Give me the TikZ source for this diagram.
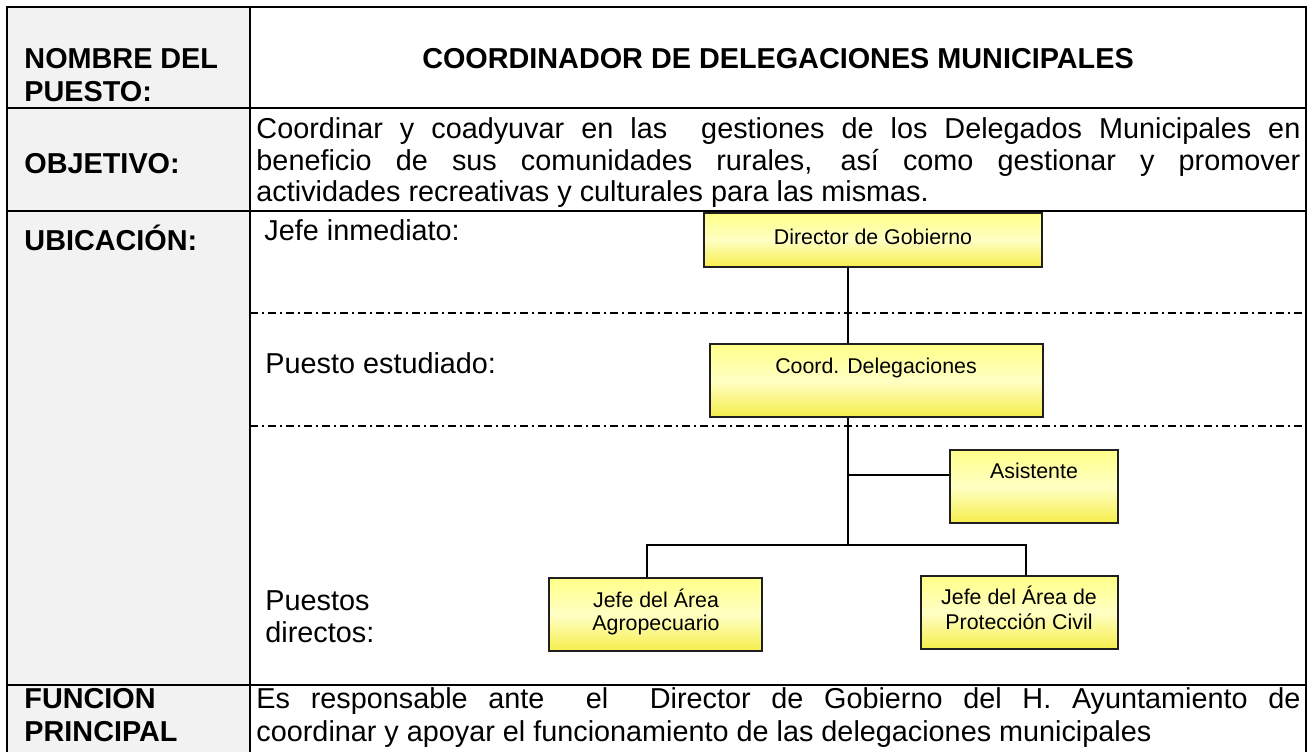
\documentclass[tikz,border=0pt]{standalone}
\usepackage{fontspec}
\setmainfont{Liberation Sans}
\newdimen\pxu \pxu=0.41667pt
\definecolor{lgray}{HTML}{F2F2F2}
\definecolor{ytop}{HTML}{FFFF88}
\definecolor{ymid}{HTML}{FFFFC4}
\definecolor{ybot}{HTML}{F6EE4C}
\begin{document}
\begin{tikzpicture}[x=0.41667pt, y=-0.41667pt,
  tbl/.style={line width=2\pxu, black},
  sepline/.style={line width=1.3\pxu, dash pattern=on 8\pxu off 4\pxu on 2\pxu off 4\pxu},
  box/.style={draw=black!88, line width=2\pxu, inner sep=0, rectangle,
     top color=ytop, bottom color=ybot, middle color=ymid},
  lbl/.style={anchor=base west, inner sep=0, font=\bfseries\fontsize{12}{13.8}\selectfont},
  txt/.style={anchor=base west, inner sep=0, font=\fontsize{12}{13.8}\selectfont},
  btxt/.style={anchor=base, inner sep=0, font=\fontsize{8.9}{10}\selectfont},
  conn/.style={line width=2\pxu, black}]
\useasboundingbox (0,0) rectangle (1312,752);
\fill[white] (0,0) rectangle (1312,752);
% left column shading
\fill[lgray] (7,7) rectangle (250,752);
% table lines
\draw[tbl] (7,752) -- (7,7) -- (1306,7) -- (1306,752);
\draw[tbl] (250,7) -- (250,752);
\draw[tbl] (7,108) -- (1306,108);
\draw[tbl] (7,211) -- (1306,211);
\draw[tbl] (7,685) -- (1306,685);
\draw[sepline] (250,313) -- (1306,313);
\draw[sepline] (250,426) -- (1306,426);

% left labels
\node[lbl] (l1a) at (24,68) {NOMBRE DEL};
\node[lbl] (l1b) at (24,101) {PUESTO:};
\node[lbl] (l2) at (24,173) {OBJETIVO:};
\node[lbl] (l3) at (24,250) {UBICACIÓN:};
\node[lbl] (l4a) at (24,708) {FUNCION};
\node[lbl] (l4b) at (24,741) {PRINCIPAL};

% title
\node[anchor=base, inner sep=0, font=\bfseries\fontsize{12}{13.8}\selectfont] (title) at (778,68) {COORDINADOR DE DELEGACIONES MUNICIPALES};

% objetivo
\node[txt] (o1) at (256,138) {\makebox[1044\pxu][s]{Coordinar y coadyuvar en las\ \ gestiones de los Delegados Municipales en}};
\node[txt] (o2) at (256,170) {\makebox[1044\pxu][s]{beneficio de sus comunidades rurales, así como gestionar y promover}};
\node[txt] (o3) at (256,201) {actividades recreativas y culturales para las mismas.};

% ubicacion labels
\node[txt] (u1) at (264,240) {Jefe inmediato:};
\node[txt] (u2) at (265,373) {Puesto estudiado:};
\node[txt] (u3a) at (265,610) {Puestos};
\node[txt] (u3b) at (265,642) {directos:};

% funcion
\node[txt] (f1) at (256,708) {\makebox[1044\pxu][s]{Es responsable ante\ \ el\ \ Director de Gobierno del H. Ayuntamiento de}};
\node[txt] (f2) at (256,741) {coordinar y apoyar el funcionamiento de las delegaciones municipales};

% boxes
\node[box, minimum width=338\pxu, minimum height=54\pxu] (dir) at (873,240) {};
\node[box, minimum width=333\pxu, minimum height=73\pxu] (coord) at (876.5,380.5) {};
\node[box, minimum width=168\pxu, minimum height=73\pxu] (asis) at (1034,486.5) {};
\node[box, minimum width=213\pxu, minimum height=73\pxu] (agro) at (655.5,614.5) {};
\node[box, minimum width=197\pxu, minimum height=73\pxu] (prot) at (1019.5,612.5) {};

\node[btxt] (tdir) at (873,244) {Director de Gobierno};
\node[btxt] (tcoord) at (876,373) {Coord. Delegaciones};
\node[btxt] (tasis) at (1034,478) {Asistente};
\node[btxt] (tagro1) at (656,607) {Jefe del Área};
\node[btxt] (tagro2) at (656,630) {Agropecuario};
\node[btxt] (tprot1) at (1019,604) {Jefe del Área de};
\node[btxt] (tprot2) at (1019,629) {Protección Civil};

% connectors
\coordinate (j) at (848,545);
\coordinate (ab) at (848,475);
\coordinate (ja) at (647,545);
\coordinate (jp) at (1026,545);
\draw[conn] (dir.south -| j) -- (coord.north -| j);
\draw[conn] (coord.south -| j) -- (j);
\draw[conn] (ab) -- (ab -| asis.west);
\draw[conn] (agro.north -| ja) -- (ja) -- (jp) -- (prot.north -| jp);
\end{tikzpicture}
\end{document}
